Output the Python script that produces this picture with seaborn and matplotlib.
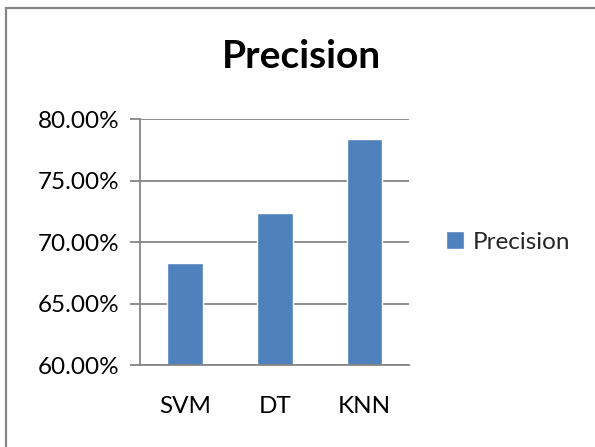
import matplotlib
matplotlib.use("Agg")
import matplotlib.pyplot as plt
from matplotlib.patches import Rectangle
from matplotlib.ticker import FuncFormatter, FixedLocator
import seaborn as sns
import pandas as pd

models = ["SVM", "DT", "KNN"]
precision = [68.33, 72.35, 78.38]
y_ticks = [60, 65, 70, 75, 80]
series_name = "Precision"

sns.set_theme(style="white")
plt.rcParams["font.family"] = ["Lato", "DejaVu Sans"]

bar_color = "#4F81BD"
grey = "#868686"
label_size = 17.5

df = pd.DataFrame({"model": models, "value": precision, "series": series_name})

fig = plt.figure(figsize=(5.95, 4.47), dpi=100)
ax = fig.add_axes([0.2358, 0.1834, 0.4521, 0.5497])

sns.barplot(data=df, x="model", y="value", hue="series", palette=[bar_color],
            width=0.4, ax=ax, saturation=1, legend=True)

ax.set_ylim(y_ticks[0], y_ticks[-1])
ax.set_xlim(-0.5, len(models) - 0.5)
ax.yaxis.set_major_locator(FixedLocator(y_ticks))
ax.yaxis.set_major_formatter(FuncFormatter(lambda v, p: f"{v:.2f}%"))
ax.set_xlabel("")
ax.set_ylabel("")

# horizontal gridlines
ax.grid(axis="y", color=grey, linewidth=1.3)
ax.set_axisbelow(True)
for s in ["top", "right"]:
    ax.spines[s].set_visible(False)
for s in ["left", "bottom"]:
    ax.spines[s].set_color(grey)
    ax.spines[s].set_linewidth(1.3)

# category separators on the x axis
ax.set_xticks([i - 0.5 for i in range(len(models) + 1)], minor=True)
ax.tick_params(axis="x", which="minor", length=8, width=1.3, color=grey, direction="out")
ax.tick_params(axis="x", which="major", length=0, pad=22, labelsize=label_size, labelcolor="black")
ax.tick_params(axis="y", which="major", length=7, width=1.3, color=grey, direction="out",
               left=True, pad=8, labelsize=label_size, labelcolor="black")

fig.text(0.507, 0.874, series_name, ha="center", va="center",
         fontsize=28, fontweight="bold", color="black")

leg = ax.legend(loc="center left", bbox_to_anchor=(1.1, 0.5), frameon=False,
                fontsize=label_size, handlelength=0.75, handleheight=0.75, handletextpad=0.35,
                borderaxespad=0)

# outer chart frame
fig.add_artist(Rectangle((6 / 595, -0.05), 1.2, 1 - 7.5 / 447 + 0.05,
                         transform=fig.transFigure, fill=False,
                         edgecolor=grey, linewidth=1.6))

fig.savefig("out.png", dpi=100, facecolor="white")
